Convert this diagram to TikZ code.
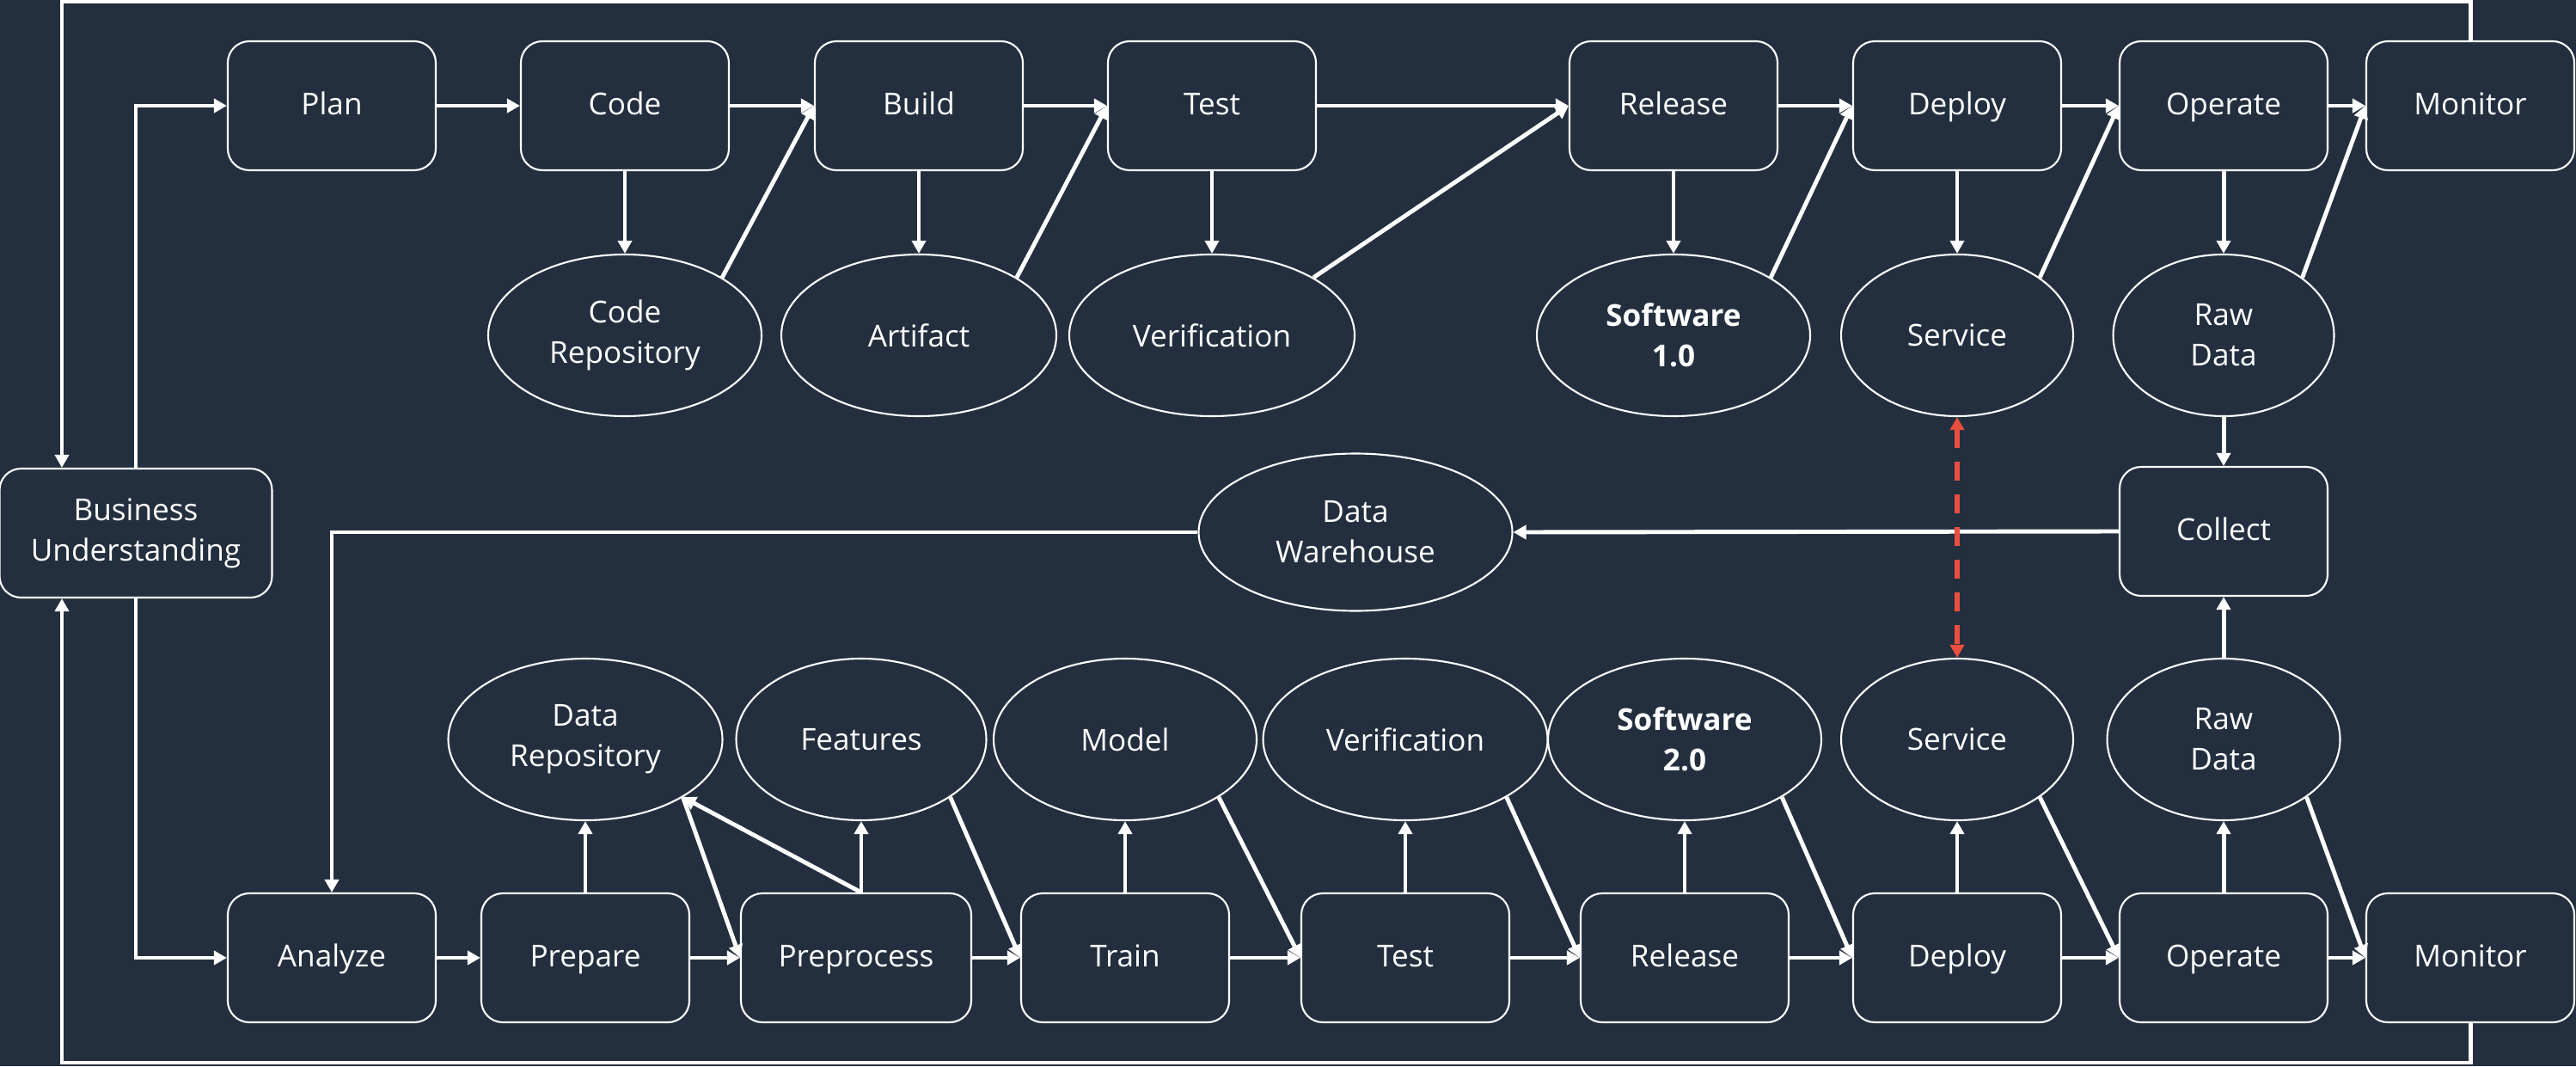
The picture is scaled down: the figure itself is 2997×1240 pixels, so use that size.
\documentclass[tikz,border=0pt]{standalone}
\usepackage{fontspec}
\setmainfont{Open Sans}
\usepackage{xcolor}
\usepackage{tikz}
\usetikzlibrary{arrows.meta, calc, positioning, shapes.geometric}

\definecolor{ink}{RGB}{35,47,62}
\definecolor{alert}{RGB}{234,78,62}

\begin{document}
\begin{tikzpicture}[
  x=0.1mm, y=-0.1mm,
  >={Triangle[length=1.5mm,width=1.6mm]},
  every node/.style={text=white, font=\fontsize{10}{13.4}\selectfont},
  stage/.style={draw=white, line width=0.6pt, rounded corners=2.5mm, fill=ink,
                minimum width=24.2mm, minimum height=15mm, align=center,
                text height=1.6ex, text depth=0.45ex},
  store/.style={ellipse, draw=white, line width=0.6pt, fill=ink,
                minimum height=18.8mm, inner sep=1pt, align=center},
  arr/.style={->, draw=white, line width=1.4pt},
  link/.style={<->, draw=alert, line width=1.6pt, dash pattern=on 2.2mm off 1.6mm},
]
% canvas
\fill[ink] (0,0) rectangle (2997,1240);
\useasboundingbox (0,0) rectangle (2997,1240);
% Software stream (top row)
\node[stage] (plan)  at (386,123)  {Plan};
\node[stage] (code)  at (727,123)  {Code};
\node[stage] (build) at (1069,123) {Build};
\node[stage] (test)  at (1410,123) {Test};
\node[stage] (rel)   at (1947,123) {Release};
\node[stage] (dep)   at (2277,123) {Deploy};
\node[stage] (ops)   at (2587,123) {Operate};
\node[stage] (mon)   at (2874,123) {Monitor};
\node[store, minimum width=31.8mm] (crepo) at (727,390)  {Code\\Repository};
\node[store, minimum width=32mm]   (art)   at (1069,390) {Artifact};
\node[store, minimum width=33.2mm] (ver)   at (1410,390) {Verification};
\node[store, minimum width=31.8mm] (sw1)   at (1947,390) {\textbf{Software}\\\textbf{1.0}};
\node[store, minimum width=27mm]   (svc)   at (2277,390) {Service};
\node[store, minimum width=25.7mm] (raw)   at (2587,390) {Raw\\Data};
% Middle: start, warehouse, collection
\node[stage, minimum width=31.7mm, text height=, text depth=] (bu) at (158,620) {Business\\Understanding};
\node[store, minimum width=36.5mm, minimum height=18.3mm] (dw) at (1577,619) {Data\\Warehouse};
\node[stage] (col) at (2587,618) {Collect};
% Model stream (bottom row)
\node[stage] (ana)   at (386,1114)  {Analyze};
\node[stage] (prep)  at (681,1114)  {Prepare};
\node[stage, minimum width=26.8mm] (pre) at (996,1114) {Preprocess};
\node[stage] (train) at (1309,1114) {Train};
\node[stage] (test2) at (1635,1114) {Test};
\node[stage] (rel2)  at (1960,1114) {Release};
\node[stage] (dep2)  at (2277,1114) {Deploy};
\node[stage] (ops2)  at (2587,1114) {Operate};
\node[stage] (mon2)  at (2874,1114) {Monitor};
\node[store, minimum width=31.9mm] (drepo) at (681,860)  {Data\\Repository};
\node[store, minimum width=29.1mm] (feat)  at (1002,860) {Features};
\node[store, minimum width=30.6mm] (model) at (1309,860) {Model};
\node[store, minimum width=33.1mm] (ver2)  at (1635,860) {Verification};
\node[store, minimum width=31.8mm] (sw2)   at (1960,860) {\textbf{Software}\\\textbf{2.0}};
\node[store, minimum width=27mm]   (svc2)  at (2277,860) {Service};
\node[store, minimum width=27.1mm] (raw2)  at (2587,860) {Raw\\Data};
% Outer loop back to business understanding
\coordinate (lt) at (72,2);
\coordinate (lb) at (72,1236);
\draw[arr] (mon.north) |- (lt) -- (lt |- bu.north);
\draw[arr] (mon2.south) |- (lb) -- (lb |- bu.south);
\draw[arr] (bu.north) |- (plan.west);
\draw[arr] (bu.south) |- (ana.west);
% Top row arrows
\foreach \a/\b in {plan/code, code/build, build/test, test/rel, rel/dep, dep/ops, ops/mon}
  \draw[arr] (\a) -- (\b);
\foreach \a/\b in {code/crepo, build/art, test/ver, rel/sw1, dep/svc, ops/raw}
  \draw[arr] (\a) -- (\b);
\foreach \a/\b in {crepo/build, art/test, ver/rel, sw1/dep, svc/ops, raw/mon}
  \draw[arr] (\a.north east) -- (\b.west);
% Bottom row arrows
\foreach \a/\b in {ana/prep, prep/pre, pre/train, train/test2, test2/rel2, rel2/dep2, dep2/ops2, ops2/mon2}
  \draw[arr] (\a) -- (\b);
\foreach \a/\b in {prep/drepo, train/model, test2/ver2, rel2/sw2, dep2/svc2, ops2/raw2}
  \draw[arr] (\a) -- (\b);
\draw[arr] (pre.north -| feat.south) -- (feat.south);
\foreach \a/\b in {drepo/pre, feat/train, model/test2, ver2/rel2, sw2/dep2, svc2/ops2, raw2/mon2}
  \draw[arr] (\a.south east) -- (\b.west);
\draw[arr] (pre.north -| feat.south) -- (drepo.south east);
% Data collection
\draw[arr] (raw) -- (col);
\draw[arr] (raw2) -- (col);
\draw[arr] (col.west) -- (dw.east);
\draw[arr] (dw.west) -| (ana.north);
% Service link
\draw[link] (svc) -- (svc2);
\end{tikzpicture}
\end{document}
